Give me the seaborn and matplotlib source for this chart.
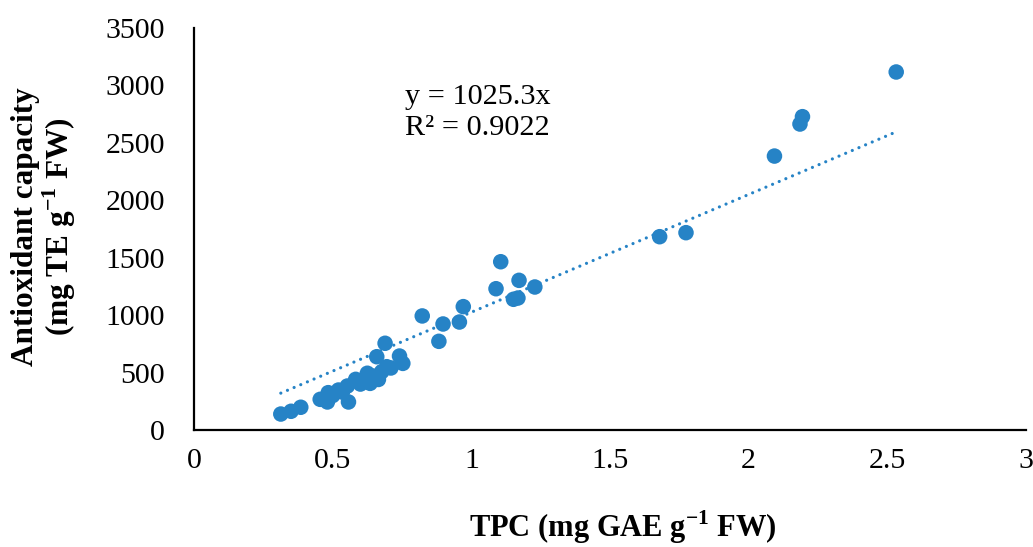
import numpy as np
import pandas as pd
import matplotlib.pyplot as plt
import seaborn as sns

# TPC (mg GAE g-1 FW) vs antioxidant capacity (mg TE g-1 FW)
tpc = [0.313, 0.350, 0.385, 0.455, 0.481, 0.484, 0.500, 0.521, 0.535, 0.557,
       0.553, 0.583, 0.600, 0.625, 0.635, 0.645, 0.659, 0.665, 0.677, 0.689,
       0.695, 0.710, 0.741, 0.753, 0.823, 0.883, 0.898, 0.957, 0.971, 1.089,
       1.106, 1.152, 1.168, 1.172, 1.229, 1.679, 1.774, 2.093, 2.185, 2.194,
       2.532]
antiox = [139, 163, 198, 267, 244, 325, 300, 348, 330, 244,
          383, 441, 400, 494, 406, 470, 638, 440, 508, 755,
          551, 540, 644, 580, 993, 772, 923, 940, 1074, 1230,
          1465, 1138, 1149, 1303, 1245, 1683, 1718, 2385, 2664, 2728,
          3117]
slope = 1025.3
r2 = 0.9022

blue = "#2683C6"

df = pd.DataFrame({"TPC": tpc, "Antioxidant": antiox})

sns.set_style("white")
plt.rcParams["font.family"] = ["Liberation Serif", "DejaVu Serif"]
plt.rcParams["mathtext.fontset"] = "custom"
plt.rcParams["mathtext.rm"] = "Liberation Serif"
plt.rcParams["mathtext.bf"] = "Liberation Serif:bold"
plt.rcParams["text.color"] = "black"
plt.rcParams["axes.labelcolor"] = "black"

fig = plt.figure(figsize=(10.33, 5.47), dpi=100)
ax = fig.add_axes([194 / 1033, 1 - 430 / 547, (1026 - 194) / 1033, (430 - 28) / 547])

sns.scatterplot(data=df, x="TPC", y="Antioxidant", ax=ax, color=blue,
                s=125, edgecolor="none", linewidth=0, zorder=3)

# linear trendline through origin (Excel style, dotted)
xfit = np.array([min(tpc), max(tpc)])
ax.plot(xfit, slope * xfit, color=blue, linewidth=2.3,
        linestyle=(0, (0.01, 2.25)), dash_capstyle="round", zorder=2)

ax.text(0.761, 2760, f"y = {slope}x\nR² = {r2}", fontsize=21.8,
        ha="left", va="center", linespacing=1.25)

ax.set_xlim(0, 3)
ax.set_ylim(0, 3500)
ax.set_xticks(np.arange(0, 3.01, 0.5))
ax.set_xticklabels(["0", "0.5", "1", "1.5", "2", "2.5", "3"])
ax.set_yticks(np.arange(0, 3501, 500))

for side in ["top", "right"]:
    ax.spines[side].set_visible(False)
for side in ["left", "bottom"]:
    ax.spines[side].set_color("black")
    ax.spines[side].set_linewidth(1.6)

ax.tick_params(axis="x", direction="in", length=6, width=1.4, pad=13,
               labelsize=21.5, colors="black")
ax.tick_params(axis="y", direction="out", length=5, width=1.4, pad=16,
               labelsize=21.5, colors="black")

ax.set_xlabel(r"TPC (mg GAE g$^{\mathbf{-1}}$ FW)", fontsize=22,
              fontweight="bold")
ax.xaxis.set_label_coords(0.516, -0.195)
ax.set_ylabel("Antioxidant capacity\n" + r"(mg TE g$^{\mathbf{-1}}$ FW)",
              fontsize=22.5, fontweight="bold", linespacing=1.0)
ax.yaxis.set_label_coords(-0.14, 0.505)

fig.savefig("out.png", dpi=100)
